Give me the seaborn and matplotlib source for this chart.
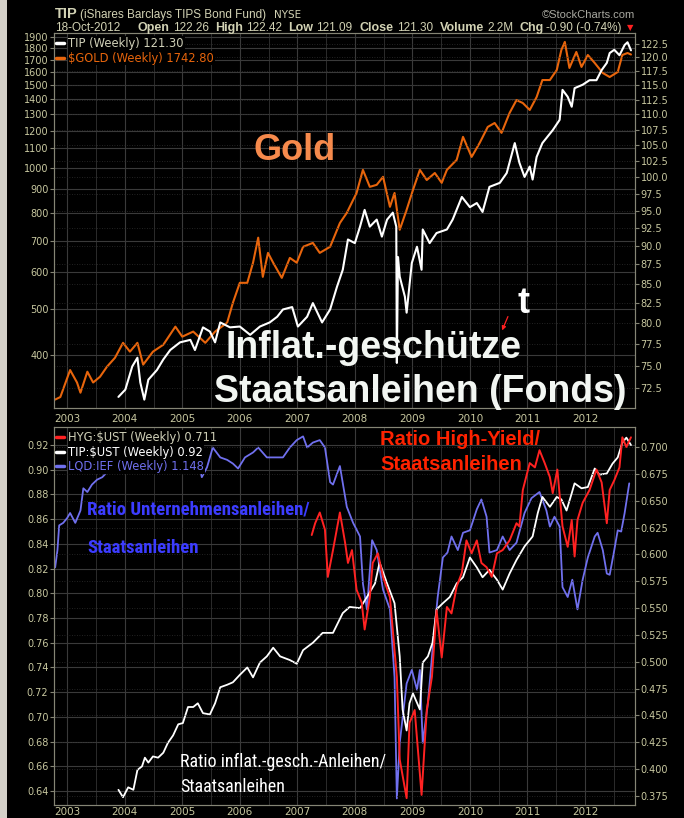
import numpy as np
import pandas as pd
import seaborn as sns
import matplotlib.pyplot as plt
from matplotlib.ticker import FixedLocator, FixedFormatter, MultipleLocator, NullLocator
from matplotlib.lines import Line2D
from matplotlib.patches import Rectangle, FancyArrowPatch

# ---- data (decimal years) ----
gold_x = [2002.79, 2002.88, 2003.05, 2003.17, 2003.23, 2003.35, 2003.45, 2003.57, 2003.69, 2003.83,
          2003.97, 2004.09, 2004.22, 2004.32, 2004.49, 2004.67, 2004.88, 2005.00, 2005.19, 2005.40,
          2005.57, 2005.78, 2005.88, 2006.00, 2006.13, 2006.23, 2006.32, 2006.40, 2006.49, 2006.58,
          2006.73, 2006.87, 2006.99, 2007.10, 2007.27, 2007.39, 2007.57, 2007.74, 2007.86, 2008.03,
          2008.14, 2008.26, 2008.38, 2008.49, 2008.61, 2008.69, 2008.78, 2008.90, 2009.01, 2009.13,
          2009.25, 2009.39, 2009.51, 2009.60, 2009.77, 2009.88, 2010.03, 2010.17, 2010.31, 2010.43,
          2010.55, 2010.69, 2010.81, 2010.92, 2011.04, 2011.16, 2011.26, 2011.39, 2011.51, 2011.59,
          2011.65, 2011.73, 2011.85, 2011.94, 2012.05, 2012.17, 2012.31, 2012.43, 2012.57, 2012.65,
          2012.74, 2012.80]
gold_y = [321, 325, 371, 349, 332, 368, 349, 359, 377, 394,
          424, 406, 424, 381, 406, 420, 459, 437, 448, 424,
          448, 468, 516, 569, 569, 628, 710, 586, 659, 628,
          583, 643, 628, 679, 692, 659, 679, 763, 802, 884,
          990, 911, 920, 957, 826, 884, 738, 814, 897, 990,
          942, 975, 929, 990, 1040, 1164, 1055, 1130, 1222, 1246,
          1187, 1309, 1394, 1374, 1328, 1415, 1538, 1538, 1616, 1783,
          1854, 1632, 1765, 1640, 1739, 1672, 1592, 1561, 1600, 1739,
          1756, 1743]

tip_x = [2003.89, 2004.01, 2004.13, 2004.22, 2004.27, 2004.34, 2004.41, 2004.56, 2004.67, 2004.79,
         2004.96, 2005.14, 2005.22, 2005.36, 2005.48, 2005.57, 2005.66, 2005.83, 2006.00, 2006.18,
         2006.35, 2006.52, 2006.65, 2006.75, 2006.91, 2007.01, 2007.17, 2007.27, 2007.43, 2007.57,
         2007.69, 2007.79, 2007.88, 2008.00, 2008.09, 2008.17, 2008.26, 2008.38, 2008.47, 2008.56,
         2008.66, 2008.72, 2008.73, 2008.75, 2008.78, 2008.87, 2008.90, 2008.99, 2009.08, 2009.16,
         2009.18, 2009.30, 2009.42, 2009.60, 2009.70, 2009.86, 2010.00, 2010.12, 2010.22, 2010.34,
         2010.52, 2010.64, 2010.78, 2010.86, 2010.95, 2011.04, 2011.09, 2011.16, 2011.26, 2011.44,
         2011.56, 2011.61, 2011.70, 2011.77, 2011.82, 2011.96, 2012.08, 2012.20, 2012.29, 2012.38,
         2012.43, 2012.51, 2012.60, 2012.69, 2012.74, 2012.80]
tip_y = [71.5, 72.3, 74.9, 75.9, 73.1, 71.2, 73.4, 74.5, 75.7, 76.8,
         77.7, 78.0, 76.8, 79.5, 79.0, 77.7, 80.1, 79.5, 79.6, 78.6,
         79.6, 80.1, 80.8, 81.7, 82.0, 79.6, 80.8, 82.5, 80.1, 81.7,
         84.6, 86.8, 90.9, 90.4, 92.7, 95.1, 92.7, 93.7, 91.3, 93.7,
         94.7, 92.7, 75.3, 88.5, 85.9, 83.3, 81.3, 87.7, 89.9, 86.8,
         92.3, 90.4, 91.8, 92.3, 93.7, 97.0, 95.5, 96.1, 94.8, 98.5,
         99.1, 100.6, 105.3, 102.2, 100.0, 101.6, 99.6, 103.1, 105.3, 107.4,
         109.1, 114.2, 113.0, 111.3, 114.5, 115.1, 115.9, 115.9, 117.7, 119.0,
         120.8, 121.4, 120.4, 122.3, 122.8, 121.3]

# LQD:IEF drawn against the left scale of the lower panel
lqd_x = [2002.79, 2002.83, 2002.86, 2002.93, 2003.00, 2003.05, 2003.14, 2003.23, 2003.28, 2003.35,
         2003.43, 2003.52, 2003.61, 2003.69, 2003.78, 2003.87, 2003.97, 2004.06, 2004.15, 2004.22,
         2004.32, 2004.41, 2004.49, 2004.61, 2004.70, 2004.79, 2004.95, 2005.08, 2005.17, 2005.26,
         2005.34, 2005.43, 2005.53, 2005.66, 2005.78, 2005.88, 2005.97, 2006.09, 2006.23, 2006.32,
         2006.47, 2006.65, 2006.75, 2006.87, 2006.99, 2007.10, 2007.17, 2007.27, 2007.39, 2007.48,
         2007.57, 2007.62, 2007.74, 2007.86, 2007.97, 2008.09, 2008.14, 2008.21, 2008.30, 2008.38,
         2008.49, 2008.61, 2008.69, 2008.73, 2008.78, 2008.90, 2008.99, 2009.08, 2009.13, 2009.18,
         2009.27, 2009.35, 2009.44, 2009.53, 2009.61, 2009.68, 2009.79, 2009.88, 2010.00, 2010.12,
         2010.20, 2010.29, 2010.34, 2010.47, 2010.57, 2010.69, 2010.81, 2010.95, 2011.07, 2011.21,
         2011.33, 2011.39, 2011.47, 2011.56, 2011.61, 2011.70, 2011.78, 2011.87, 2011.96, 2012.05,
         2012.17, 2012.22, 2012.31, 2012.38, 2012.43, 2012.51, 2012.57, 2012.63, 2012.69, 2012.77]
lqd_y = [0.821, 0.835, 0.855, 0.857, 0.861, 0.865, 0.857, 0.867, 0.885, 0.882,
         0.888, 0.892, 0.894, 0.898, 0.900, 0.904, 0.905, 0.905, 0.901, 0.906,
         0.900, 0.901, 0.898, 0.904, 0.905, 0.905, 0.912, 0.918, 0.922, 0.910,
         0.894, 0.902, 0.918, 0.910, 0.908, 0.905, 0.901, 0.910, 0.914, 0.918,
         0.910, 0.910, 0.910, 0.918, 0.924, 0.927, 0.918, 0.922, 0.924, 0.918,
         0.890, 0.888, 0.903, 0.870, 0.857, 0.846, 0.808, 0.787, 0.843, 0.835,
         0.803, 0.787, 0.732, 0.634, 0.679, 0.727, 0.738, 0.722, 0.738, 0.679,
         0.711, 0.754, 0.797, 0.829, 0.833, 0.846, 0.835, 0.849, 0.851, 0.868,
         0.876, 0.862, 0.833, 0.835, 0.846, 0.835, 0.841, 0.865, 0.877, 0.882,
         0.867, 0.854, 0.862, 0.854, 0.805, 0.797, 0.811, 0.787, 0.811, 0.829,
         0.846, 0.849, 0.835, 0.816, 0.815, 0.835, 0.851, 0.850, 0.865, 0.889]

tipust_x = [2003.89, 2003.97, 2004.06, 2004.15, 2004.22, 2004.30, 2004.35, 2004.41, 2004.49, 2004.58,
            2004.67, 2004.75, 2004.84, 2004.93, 2005.01, 2005.10, 2005.19, 2005.27, 2005.36, 2005.48,
            2005.57, 2005.66, 2005.78, 2005.88, 2006.00, 2006.13, 2006.23, 2006.35, 2006.47, 2006.58,
            2006.70, 2006.87, 2006.99, 2007.10, 2007.27, 2007.44, 2007.62, 2007.79, 2007.91, 2008.09,
            2008.21, 2008.35, 2008.43, 2008.56, 2008.69, 2008.78, 2008.83, 2008.90, 2008.95, 2009.01,
            2009.13, 2009.18, 2009.27, 2009.35, 2009.42, 2009.53, 2009.65, 2009.77, 2009.88, 2010.00,
            2010.12, 2010.22, 2010.34, 2010.47, 2010.57, 2010.69, 2010.81, 2010.95, 2011.09, 2011.18,
            2011.26, 2011.39, 2011.51, 2011.59, 2011.68, 2011.77, 2011.82, 2011.94, 2012.05, 2012.17,
            2012.25, 2012.38, 2012.48, 2012.57, 2012.65, 2012.72, 2012.80]
tipust_y = [0.641, 0.635, 0.643, 0.641, 0.657, 0.660, 0.667, 0.663, 0.668, 0.667,
            0.671, 0.679, 0.685, 0.694, 0.695, 0.708, 0.708, 0.711, 0.703, 0.702,
            0.711, 0.724, 0.726, 0.728, 0.734, 0.740, 0.732, 0.744, 0.749, 0.756,
            0.749, 0.746, 0.743, 0.754, 0.760, 0.768, 0.768, 0.784, 0.789, 0.788,
            0.797, 0.808, 0.825, 0.808, 0.792, 0.749, 0.706, 0.689, 0.711, 0.719,
            0.706, 0.744, 0.749, 0.760, 0.787, 0.792, 0.797, 0.808, 0.813, 0.829,
            0.821, 0.813, 0.819, 0.811, 0.803, 0.816, 0.827, 0.838, 0.846, 0.865,
            0.878, 0.870, 0.878, 0.876, 0.867, 0.881, 0.889, 0.885, 0.886, 0.901,
            0.896, 0.897, 0.905, 0.910, 0.922, 0.926, 0.920]

# HYG:$UST drawn against the right scale of the lower panel
hyg_x = [2007.25, 2007.31, 2007.39, 2007.48, 2007.53, 2007.62, 2007.74, 2007.83, 2007.88, 2007.95,
         2008.03, 2008.12, 2008.17, 2008.26, 2008.31, 2008.40, 2008.49, 2008.61, 2008.73, 2008.78,
         2008.90, 2008.95, 2009.04, 2009.16, 2009.25, 2009.34, 2009.42, 2009.51, 2009.60, 2009.68,
         2009.77, 2009.86, 2009.94, 2010.03, 2010.12, 2010.20, 2010.29, 2010.38, 2010.47, 2010.57,
         2010.69, 2010.81, 2010.86, 2010.92, 2011.04, 2011.13, 2011.21, 2011.30, 2011.39, 2011.44,
         2011.52, 2011.61, 2011.70, 2011.77, 2011.82, 2011.87, 2011.96, 2012.08, 2012.20, 2012.29,
         2012.38, 2012.43, 2012.51, 2012.60, 2012.65, 2012.72, 2012.80]
hyg_y = [0.618, 0.629, 0.639, 0.623, 0.579, 0.604, 0.639, 0.611, 0.592, 0.604,
         0.567, 0.555, 0.530, 0.560, 0.592, 0.601, 0.579, 0.560, 0.486, 0.409,
         0.373, 0.443, 0.455, 0.376, 0.455, 0.486, 0.548, 0.504, 0.551, 0.545,
         0.570, 0.583, 0.613, 0.601, 0.613, 0.592, 0.588, 0.579, 0.601, 0.604,
         0.613, 0.629, 0.626, 0.660, 0.685, 0.681, 0.697, 0.685, 0.672, 0.657,
         0.679, 0.626, 0.607, 0.632, 0.598, 0.632, 0.648, 0.660, 0.679, 0.667,
         0.629, 0.660, 0.669, 0.681, 0.709, 0.700, 0.709]

years = list(range(2003, 2013))
year_labels = [str(y) for y in years]
gold_ticks = list(range(400, 2000, 100))
tip_ticks = list(np.arange(72.5, 123.0, 2.5))
ratio_left_ticks = list(np.arange(0.64, 0.9201, 0.02))
ratio_right_ticks = list(np.arange(0.375, 0.7001, 0.025))

# ---- styling ----
GOLD_C = '#e8650c'
TIP_C = 'white'
HYG_C = '#ff2222'
LQD_C = '#7070ee'
TICK_C = '#c8c8a0'
SPINE_C = '#858575'
GRID_C = '#3a3a3a'

sns.set_style('dark')
plt.rcParams['font.family'] = ['DejaVu Sans']
plt.rcParams['axes.unicode_minus'] = False

W, H = 684, 818


def fx(x):
    return x / W


def fy(y):
    return 1 - y / H


fig = plt.figure(figsize=(6.84, 8.18), dpi=100, facecolor='black')
fig.patches.append(Rectangle((0, 0), 7 / W, 1, transform=fig.transFigure,
                             facecolor='#d4d0c8', edgecolor='none', zorder=0))

ax_top = fig.add_axes([fx(54), fy(408), (635 - 54) / W, (408 - 33) / H])
ax_top_r = ax_top.twinx()
ax_bot = fig.add_axes([fx(54), fy(805), (635 - 54) / W, (805 - 427) / H])
ax_bot_r = ax_bot.twinx()

gold_df = pd.DataFrame({'year': gold_x, 'value': gold_y})
tip_df = pd.DataFrame({'year': tip_x, 'value': tip_y})
lqd_df = pd.DataFrame({'year': lqd_x, 'value': lqd_y})
tipust_df = pd.DataFrame({'year': tipust_x, 'value': tipust_y})
hyg_df = pd.DataFrame({'year': hyg_x, 'value': hyg_y})

sns.lineplot(data=gold_df, x='year', y='value', ax=ax_top, color=GOLD_C, lw=1.5,
             estimator=None, sort=False)
sns.lineplot(data=tip_df, x='year', y='value', ax=ax_top_r, color=TIP_C, lw=1.5,
             estimator=None, sort=False)
sns.lineplot(data=lqd_df, x='year', y='value', ax=ax_bot, color=LQD_C, lw=1.3,
             estimator=None, sort=False)
sns.lineplot(data=tipust_df, x='year', y='value', ax=ax_bot, color=TIP_C, lw=1.3,
             estimator=None, sort=False)
sns.lineplot(data=hyg_df, x='year', y='value', ax=ax_bot_r, color=HYG_C, lw=1.4,
             estimator=None, sort=False)

# scales
ax_top.set_yscale('log')
ax_top_r.set_yscale('log')
ax_top.set_ylim(308, 1937)
ax_top_r.set_ylim(70.3, 124.55)
ax_bot.set_ylim(0.6287, 0.9346)
ax_bot_r.set_ylim(0.3666, 0.7186)

ax_top.yaxis.set_major_locator(FixedLocator(gold_ticks))
ax_top.yaxis.set_major_formatter(FixedFormatter([str(v) for v in gold_ticks]))
ax_top.yaxis.set_minor_locator(NullLocator())
ax_top_r.yaxis.set_major_locator(FixedLocator(tip_ticks))
ax_top_r.yaxis.set_major_formatter(FixedFormatter([f'{v:.1f}' for v in tip_ticks]))
ax_top_r.yaxis.set_minor_locator(NullLocator())
ax_bot.yaxis.set_major_locator(FixedLocator(ratio_left_ticks))
ax_bot.yaxis.set_major_formatter(FixedFormatter([f'{v:.2f}' for v in ratio_left_ticks]))
ax_bot_r.yaxis.set_major_locator(FixedLocator(ratio_right_ticks))
ax_bot_r.yaxis.set_major_formatter(FixedFormatter([f'{v:.3f}' for v in ratio_right_ticks]))

for ax in (ax_top, ax_bot):
    ax.set_facecolor('black')
    ax.set_xlim(2002.77, 2012.87)
    ax.xaxis.set_major_locator(FixedLocator(years))
    ax.xaxis.set_major_formatter(FixedFormatter(year_labels))
    ax.xaxis.set_minor_locator(MultipleLocator(0.5))
    ax.grid(True, which='major', axis='both', color=GRID_C, lw=0.8)
    ax.grid(True, which='minor', axis='x', color='#2c2c2c', lw=0.7)
    ax.tick_params(axis='x', which='minor', length=0)
ax_top.tick_params(axis='x', which='major', colors=SPINE_C, labelcolor=TICK_C,
                   labelsize=7.5, length=2, pad=2)
ax_bot.tick_params(axis='x', which='major', colors=SPINE_C, labelcolor=TICK_C,
                   labelsize=7.5, length=1, pad=0.5)

for ax in (ax_top_r, ax_bot_r):
    ax.grid(True, axis='y', color='#2e2e2e', lw=0.6, ls=(0, (1, 2)))
    ax.grid(False, axis='x')

for ax in (ax_top, ax_top_r, ax_bot, ax_bot_r):
    ax.set_xlabel('')
    ax.set_ylabel('')
    ax.tick_params(axis='y', colors=SPINE_C, labelcolor=TICK_C, labelsize=7,
                   length=3, pad=1)
    for sp in ax.spines.values():
        sp.set_color(SPINE_C)
        sp.set_linewidth(0.8)

# ---- legends ----
legend_kw = dict(loc='upper left', bbox_to_anchor=(0.0, 0.995), frameon=False,
                 handlelength=0.7, handletextpad=0.35, labelspacing=0.12,
                 borderaxespad=0.2, borderpad=0.0,
                 prop={'family': 'DejaVu Sans', 'size': 8.3})

top_handles = [Line2D([], [], color=TIP_C, lw=2.5), Line2D([], [], color=GOLD_C, lw=2.5)]
leg_top = ax_top_r.legend(top_handles, ['TIP (Weekly) 121.30', r'\$GOLD (Weekly) 1742.80'],
                          **legend_kw)
for t, c in zip(leg_top.get_texts(), ['#d0d0b8', GOLD_C]):
    t.set_color(c)
    t.set_bbox(dict(facecolor='black', edgecolor='none', pad=0.6))

bot_handles = [Line2D([], [], color=HYG_C, lw=2.5), Line2D([], [], color=TIP_C, lw=2.5),
               Line2D([], [], color=LQD_C, lw=2.5)]
leg_bot = ax_bot_r.legend(bot_handles, [r'HYG:\$UST (Weekly) 0.711', r'TIP:\$UST (Weekly) 0.92',
                                        'LQD:IEF (Weekly) 1.148'], **legend_kw)
for t, c in zip(leg_bot.get_texts(), ['#d0d0b8', 'white', LQD_C]):
    t.set_color(c)
    t.set_bbox(dict(facecolor='black', edgecolor='none', pad=0.6))

# ---- header ----
HEAD_C = '#d2d2b4'
renderer = fig.canvas.get_renderer()
fig.text(fx(55), fy(18), 'TIP', color=HEAD_C, fontsize=10.5, fontweight='bold',
         family='Liberation Sans')
fig.text(fx(80), fy(18), '(iShares Barclays TIPS Bond Fund)', color=HEAD_C, fontsize=8.5,
         family='Liberation Sans')
fig.text(fx(301), fy(18), 'NYSE', color=HEAD_C, fontsize=7.5, ha='right', family='DejaVu Sans')
fig.text(fx(635), fy(18), '\u00a9StockCharts.com', color='#a8a8a0', fontsize=8, ha='right',
         family='Liberation Sans')
fig.text(fx(55), fy(31), '18-Oct-2012', color=HEAD_C, fontsize=8.5, family='Liberation Sans')

header_pairs = [(138, 'Open', '122.26'), (215, 'High', '122.42'), (288, 'Low', '121.09'),
                (360, 'Close', '121.30'), (440, 'Volume', '2.2M'), (519, 'Chg', '-0.90 (-0.74%)')]
for hx, lab, val in header_pairs:
    t = fig.text(fx(hx), fy(31), lab, color=HEAD_C, fontsize=9, fontweight='bold',
                 family='Liberation Sans')
    bb = t.get_window_extent(renderer)
    fig.text((bb.x1 + 3) / W, fy(31), val, color=HEAD_C, fontsize=8.5, family='Liberation Sans')
fig.text(fx(630), fy(30), '\u25bc', color='#ff2020', fontsize=6, ha='center',
         family='DejaVu Sans')

# ---- annotations ----
big = dict(fontweight='bold', family='Liberation Sans')
fig.text(fx(253), fy(160), 'Gold', color='#f68a4c', fontsize=26, **big)
fig.text(fx(517), fy(313), 't', color='white', fontsize=26, **big)
fig.text(fx(226), fy(358), 'Inflat.-geschütze', color='#f2f6f2', fontsize=27, **big)
fig.text(fx(214), fy(402), 'Staatsanleihen (Fonds)', color='#f2f6f2', fontsize=27, **big)
fig.patches.append(FancyArrowPatch(posA=(fx(509), fy(314)), posB=(fx(501), fy(333)),
                                   transform=fig.transFigure, arrowstyle='-|>',
                                   mutation_scale=6, color='#ff2020', lw=0.9))

narrow = ['Roboto Condensed', 'DejaVu Sans']
fig.text(fx(87), fy(515), 'Ratio Unternehmensanleihen/', color='#3c3cff', fontsize=13.5,
         fontweight='bold', family=narrow, fontstretch='condensed')
fig.text(fx(87), fy(553), 'Staatsanleihen', color='#3c3cff', fontsize=13.5,
         fontweight='bold', family=narrow, fontstretch='condensed')
fig.text(fx(380), fy(445), 'Ratio High-Yield/', color='#ff2200', fontsize=14.5, **big)
fig.text(fx(380), fy(470), 'Staatsanleihen', color='#ff2200', fontsize=14.5, **big)
fig.text(fx(180), fy(767), 'Ratio inflat.-gesch.-Anleihen/', color='white', fontsize=13,
         family=narrow, fontstretch='condensed')
fig.text(fx(180), fy(792), 'Staatsanleihen', color='white', fontsize=13, family=narrow,
         fontstretch='condensed')

fig.savefig('out.png', dpi=100, facecolor='black')
